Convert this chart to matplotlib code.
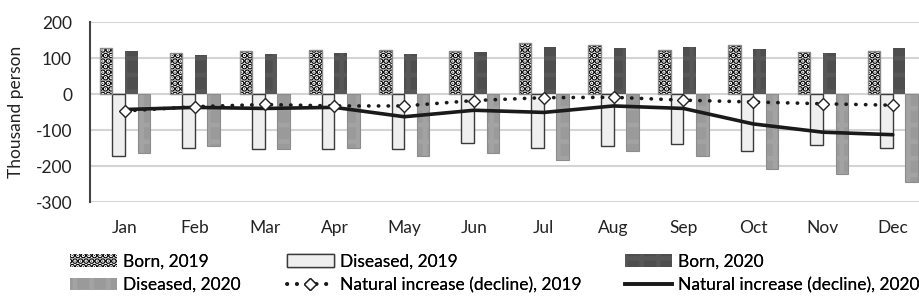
import matplotlib
matplotlib.use("Agg")
import matplotlib.pyplot as plt
import numpy as np
from matplotlib.patches import Patch
from matplotlib.lines import Line2D

plt.rcParams["font.family"] = ["Lato", "DejaVu Sans"]
plt.rcParams["axes.unicode_minus"] = False
plt.rcParams["hatch.linewidth"] = 3.2

# === data (thousand persons) ===
months = ["Jan", "Feb", "Mar", "Apr", "May", "Jun",
          "Jul", "Aug", "Sep", "Oct", "Nov", "Dec"]
born_2019 = [127, 115, 121, 123, 123, 120, 143, 136, 123, 136, 116, 119]
diseased_2019 = [-173, -150, -153, -154, -154, -137, -151, -144, -140, -158, -142, -150]
born_2020 = [120, 109, 111, 115, 110, 118, 130, 127, 131, 124, 113, 129]
diseased_2020 = [-165, -145, -153, -151, -173, -163, -182, -158, -171, -207, -221, -244]
natural_2019 = [-47, -35, -29, -33, -33, -18, -10, -9, -17, -22, -27, -31]
natural_2020 = [-43, -37, -40, -37, -63, -45, -51, -33, -40, -83, -106, -113]

x = np.arange(len(months))
w = 0.18

fig = plt.figure(figsize=(9.2, 3.07), dpi=100)
ax = fig.add_axes([0.098, 0.342, 0.902, 0.586])

# Born 2019: white with black dots
ax.bar(x - 0.27, born_2019, w, color="white", edgecolor="#000000", hatch="...", linewidth=0, zorder=2)
ax.bar(x - 0.27, born_2019, w, fill=False, edgecolor="#8a8a8a", linewidth=1.0, zorder=3)
# Diseased 2019: light fill
ax.bar(x - 0.09, diseased_2019, w, color="#efefef", edgecolor="#3a3a3a", linewidth=1.0, zorder=2)
# Born 2020: dark grey with faint grid
ax.bar(x + 0.09, born_2020, w, color="#4e4e4e", edgecolor="#575757", hatch="+", linewidth=0, zorder=2)
# Diseased 2020: medium grey with faint grid
ax.bar(x + 0.27, diseased_2020, w, color="#9a9a9a", edgecolor="#a3a3a3", hatch="+", linewidth=0, zorder=2)
ax.bar(x + 0.27, diseased_2020, w, fill=False, edgecolor="#8c8c8c", linewidth=0.8, zorder=3)

ax.plot(x, natural_2020, color="#1a1a1a", linewidth=2.6, solid_capstyle="round", zorder=4)
ax.plot(x, natural_2019, color="#1a1a1a", linewidth=2.6, linestyle=(0, (0.1, 2.6)),
        dash_capstyle="round", zorder=5)
ax.plot(x, natural_2019, linestyle="none", marker="D", markersize=6.5,
        markerfacecolor="white", markeredgecolor="#222222", markeredgewidth=1.0, zorder=6)

ax.set_xlim(-0.5, 11.39)
ax.set_ylim(-300, 200)
ax.set_yticks([-300, -200, -100, 0, 100, 200])
ax.set_yticklabels(["-300", "-200", "-100", "0", "100", "200"])
ax.set_xticks(x)
ax.set_xticklabels(months)
ax.tick_params(axis="both", length=0, labelsize=12.5, colors="#222222")
ax.tick_params(axis="x", pad=13)
ax.tick_params(axis="y", pad=13)
ax.grid(axis="y", color="#d4d4d4", linewidth=1.5, zorder=0)
ax.set_axisbelow(True)
for s in ["top", "right", "bottom"]:
    ax.spines[s].set_visible(False)
ax.spines["left"].set_color("#444444")
ax.spines["left"].set_linewidth(1.5)
ax.set_ylabel("Thousand person", fontsize=12.5, color="#222222", labelpad=8)

# legend: three columns placed separately
h_b19 = Patch(facecolor="white", edgecolor="#000000", hatch="...", linewidth=0)
h_d19 = Patch(facecolor="#efefef", edgecolor="#3a3a3a", linewidth=1.0)
h_b20 = Patch(facecolor="#4e4e4e", edgecolor="#575757", hatch="+", linewidth=0)
h_d20 = Patch(facecolor="#9a9a9a", edgecolor="#a3a3a3", hatch="+", linewidth=0)
h_n19 = Line2D([], [], color="#1a1a1a", linewidth=2.6, linestyle=(0, (0.1, 2.6)),
               dash_capstyle="round", marker="D", markersize=6.5,
               markerfacecolor="white", markeredgecolor="#222222", markeredgewidth=1.0)
h_n20 = Line2D([], [], color="#1a1a1a", linewidth=2.6)
columns = [
    ([h_b19, h_d20], ["Born, 2019", "Diseased, 2020"], 70),
    ([h_d19, h_n19], ["Diseased, 2019", "Natural increase (decline), 2019"], 287),
    ([h_b20, h_n20], ["Born, 2020", "Natural increase (decline), 2020"], 625),
]
for hs, ls, px in columns:
    leg = fig.legend(hs, ls, loc="upper left", bbox_to_anchor=(px / 920, 0.175),
                     frameon=False, fontsize=12.5, handlelength=2.7, handleheight=0.75,
                     handletextpad=0.35, labelspacing=0.45, borderpad=0, borderaxespad=0)
    fig.add_artist(leg)

fig.savefig("out.png", dpi=100)
